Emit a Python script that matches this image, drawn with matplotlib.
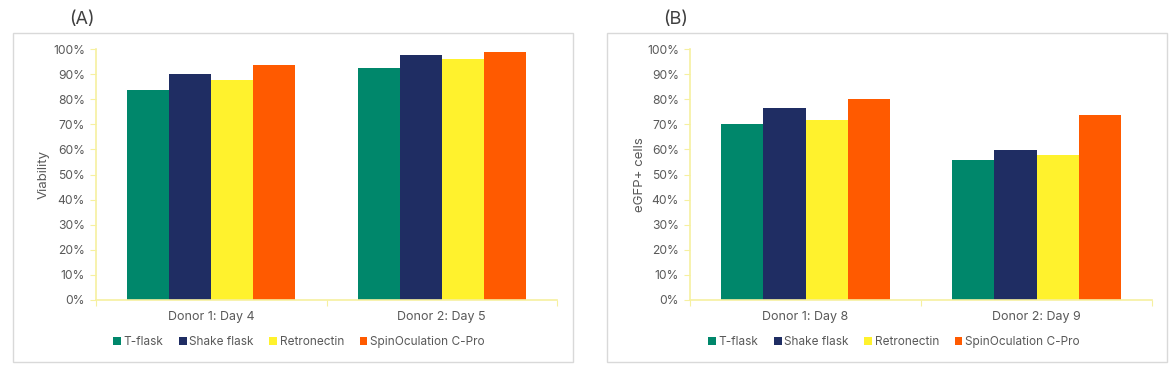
import numpy as np
import matplotlib
matplotlib.use("Agg")
import matplotlib.pyplot as plt
from matplotlib.patches import Rectangle
from matplotlib.ticker import FixedLocator, PercentFormatter

plt.rcParams['font.family'] = ['Inter', 'DejaVu Sans']

series = ['T-flask', 'Shake flask', 'Retronectin', 'SpinOculation C-Pro']
colors = ['#00876b', '#1f2d63', '#fff22d', '#ff5a00']

cats_a = ['Donor 1: Day 4', 'Donor 2: Day 5']
viability = [
    [83.5, 92.5],   # T-flask
    [90.0, 97.7],   # Shake flask
    [87.7, 96.2],   # Retronectin
    [93.7, 99.0],   # SpinOculation C-Pro
]

cats_b = ['Donor 1: Day 8', 'Donor 2: Day 9']
egfp = [
    [70.0, 55.8],
    [76.3, 59.8],
    [71.8, 57.8],
    [80.0, 73.8],
]

W, H = 1173, 366
fig = plt.figure(figsize=(W / 100, H / 100), dpi=100)
fig.patch.set_facecolor('white')

axis_col = '#f6f0a0'
text_col = '#595959'


def px(x0, y0, x1, y1):
    # pixel box (top-left origin) -> figure fraction rect
    return [x0 / W, 1 - y1 / H, (x1 - x0) / W, (y1 - y0) / H]


def panel(box, axbox, cats, data, ylabel, tag, tag_x, ylab_x, leg_x):
    r = px(*box)
    fig.patches.append(Rectangle((r[0], r[1]), r[2], r[3], transform=fig.transFigure,
                                 fill=False, edgecolor='#d9d9d9', lw=1.0))
    ax = fig.add_axes(px(*axbox))
    x = np.arange(len(cats))
    bw = 0.182
    for i, (name, vals) in enumerate(zip(series, data)):
        ax.bar(x + (i - 1.5) * bw, vals, bw, color=colors[i], label=name, zorder=2)
    ax.set_xlim(-0.5, len(cats) - 0.5)
    ax.set_ylim(0, 100)
    ax.yaxis.set_major_locator(FixedLocator(np.arange(0, 101, 10)))
    ax.yaxis.set_major_formatter(PercentFormatter(decimals=0))
    ax.set_xticks(np.arange(-0.5, len(cats)), minor=False)
    ax.set_xticklabels([])
    ax.set_xticks(x, minor=True)
    ax.set_xticklabels(cats, minor=True)
    ax.tick_params(axis='x', which='minor', length=0, pad=8, labelsize=9, labelcolor=text_col)
    ax.tick_params(axis='x', which='major', length=4, color=axis_col, direction='out')
    ax.tick_params(axis='y', length=4, color=axis_col, labelsize=8.7, labelcolor=text_col, pad=4)
    for s in ['top', 'right']:
        ax.spines[s].set_visible(False)
    for s in ['left', 'bottom']:
        ax.spines[s].set_color(axis_col)
        ax.spines[s].set_linewidth(1.2)
    ax.set_facecolor('white')
    fig.text(ylab_x / W, 1 - ((axbox[1] + axbox[3]) / 2) / H, ylabel, rotation=90,
             ha='center', va='center', fontsize=9.5, color=text_col)
    fig.text(tag_x / W, 1 - 19 / H, tag, ha='left', va='center', fontsize=13, color='#404040')
    ax.legend(loc='center left', bbox_to_anchor=(leg_x, 1 - 342 / H), bbox_transform=fig.transFigure,
              ncol=4, frameon=False, fontsize=8.5, labelcolor=text_col, handlelength=0.65,
              handleheight=0.65, handletextpad=0.25, columnspacing=1.3, borderaxespad=0,
              borderpad=0)
    return ax


panel((13, 33, 573, 362), (96, 49, 557, 300), cats_a, viability, 'Viability', '(A)', 69, 44, 113 / W)
panel((607, 33, 1167, 362), (690, 49, 1152, 300), cats_b, egfp, 'eGFP+ cells', '(B)', 663, 640, 708 / W)

fig.savefig('out.png', dpi=100)
